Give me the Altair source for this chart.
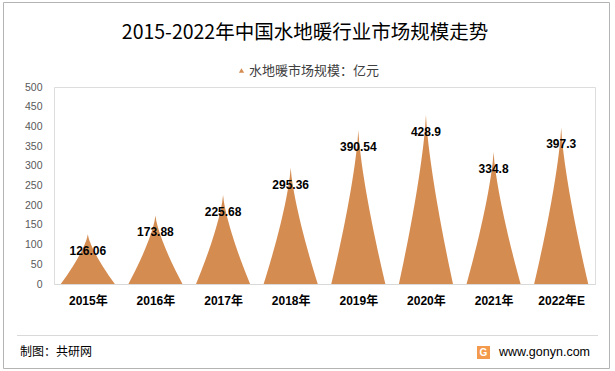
import altair as alt
import pandas as pd

# ---- data ----
years = ["2015年", "2016年", "2017年", "2018年", "2019年", "2020年", "2021年", "2022年E"]
values = [126.06, 173.88, 225.68, 295.36, 390.54, 428.9, 334.8, 397.3]
value_labels = ["126.06", "173.88", "225.68", "295.36", "390.54", "428.9", "334.8", "397.3"]
series_name = "水地暖市场规模：亿元"
y_ticks = [0, 50, 100, 150, 200, 250, 300, 350, 400, 450, 500]
title_text = "2015-2022年中国水地暖行业市场规模走势"
footer_left = "制图：共研网"
footer_right = "www.gonyn.com"

ORANGE = "#D58C51"
CJK = "Noto Sans CJK SC"
LAT = "Liberation Sans, Noto Sans CJK SC"

df = pd.DataFrame({
    "year": years,
    "value": values,
    "label": value_labels,
    "idx": list(range(len(years))),
    "series": [series_name] * len(years),
})

label_expr = "[" + ",".join("'" + y + "'" for y in years) + "][datum.value]"

x_scale = alt.Scale(domain=[-0.5, len(years) - 0.5], nice=False, zero=False)
y_scale = alt.Scale(domain=[0, 500], nice=False)

x_axis = alt.Axis(
    values=list(range(len(years))), labelExpr=label_expr, title=None,
    grid=False, ticks=False, domainColor="#D9D9D9", domainWidth=1,
    labelFont=LAT, labelFontSize=12, labelFontWeight="bold", labelColor="#000000",
    labelPadding=16, labelBaseline="middle", labelOverlap=False)
y_axis = alt.Axis(
    values=y_ticks, title=None, grid=False, ticks=False, domain=False,
    labelFont="Liberation Sans", labelFontSize=10.5, labelColor="#595959",
    labelPadding=12, labelOverlap=False, labelFlush=False)

HALF = 0.4   # half base width of a spike, in category units
EXP = 1 / 1.35

spikes = alt.Chart(df).transform_calculate(
    step="sequence(-30, 31)"
).transform_flatten(["step"]).transform_calculate(
    px=f"datum.idx + {HALF} * datum.step / 30",
    py=f"datum.value * (1 - pow(abs(datum.step / 30), {EXP}))",
).mark_area(opacity=1).encode(
    x=alt.X("px:Q", scale=x_scale, axis=x_axis),
    y=alt.Y("py:Q", scale=y_scale, axis=y_axis),
    detail="year:N",
    color=alt.Color("series:N", scale=alt.Scale(range=[ORANGE]), legend=alt.Legend(
        title=None, orient="none", legendX=181, legendY=-23,
        symbolType="triangle-up", symbolSize=28, symbolStrokeWidth=0,
        labelFont=CJK, labelFontSize=13, labelColor="#404040", padding=0, labelOffset=1)),
)

labels = alt.Chart(df).mark_text(
    dy=17, font="Liberation Sans", fontSize=12, fontWeight="bold", color="#000000"
).encode(
    x=alt.X("idx:Q", scale=x_scale, axis=x_axis),
    y=alt.Y("value:Q", scale=y_scale, axis=y_axis),
    text="label:N",
)

one = pd.DataFrame({"title": [title_text], "left": [footer_left], "right": [footer_right], "g": ["G"]})

title = alt.Chart(one).mark_text(align="center", baseline="middle", font=CJK, fontSize=19.5,
                                 color="#000000").encode(
    x=alt.value(251), y=alt.value(-54), text="title:N")
border = alt.Chart(one).mark_rect(fillOpacity=0, stroke="#B4B4B4", strokeWidth=1).encode(
    x=alt.value(-50.5), x2=alt.value(555.5), y=alt.value(-84.5), y2=alt.value(281.5))
sep = alt.Chart(one).mark_rule(color="#D9D9D9", strokeWidth=1).encode(
    x=alt.value(-37), x2=alt.value(544), y=alt.value(248.5))
f_left = alt.Chart(one).mark_text(align="left", baseline="middle", font=CJK, fontSize=12,
                                  color="#000000").encode(
    x=alt.value(-34), y=alt.value(265), text="left:N")
f_right = alt.Chart(one).mark_text(align="right", baseline="middle", font="Liberation Sans",
                                   fontSize=12.5, color="#000000").encode(
    x=alt.value(536), y=alt.value(265), text="right:N")
icon = alt.Chart(one).mark_rect(color="#F39A4C").encode(
    x=alt.value(423), x2=alt.value(436), y=alt.value(259), y2=alt.value(272))
icon_g = alt.Chart(one).mark_text(align="center", baseline="middle", font="Liberation Sans",
                                  fontSize=10, fontWeight="bold", color="#FFFFFF").encode(
    x=alt.value(429.5), y=alt.value(265.5), text="g:N")

chart = alt.layer(spikes, border, sep, title, labels, f_left, f_right, icon, icon_g).properties(
    width=541, height=197,
    autosize=alt.AutoSizeParams(type="none"),
    padding={"left": 54, "top": 87, "right": 20, "bottom": 87},
).configure_view(strokeWidth=0).configure_axis(labelOverlap=False).configure(background="#FFFFFF")

chart.save("out.html", embed_options={"renderer": "svg", "actions": False})
